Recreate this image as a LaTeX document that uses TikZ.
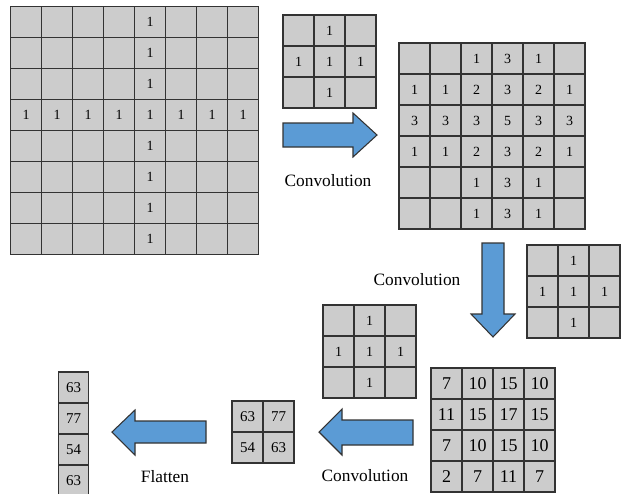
\documentclass[tikz,border=0pt]{standalone}
\usepackage{fontspec}
\setmainfont{Liberation Serif}
\newfontfamily\figfont{Liberation Serif}
\definecolor{cellgray}{HTML}{CCCCCC}
\definecolor{arrowblue}{HTML}{5B9BD5}
\definecolor{edgegray}{HTML}{333333}
\tikzset{
  cell/.style={draw=edgegray, fill=cellgray, line width=0.8pt, minimum width=23.25pt,
    minimum height=23.25pt, inner sep=0pt, font=\figfont\fontsize{10.5}{12}\selectfont},
  blockarrow/.style={draw=edgegray, fill=arrowblue, line width=0.8pt, line join=miter},
  steplabel/.style={font=\figfont\fontsize{13}{15}\selectfont},
}
% one feature map: #2 name, #3 left, #4 top, #5 rows of values
\newcommand{\featmap}[5][]{%
  \foreach \fmrow [count=\ri] in {#5}
    \foreach \v [count=\ci] in \fmrow
      \node[cell,#1] (#2-\ri-\ci) at ({#3+31*\ci-15.5},{#4+31*\ri-15.5}) {\v};%
}
\begin{document}
\begin{tikzpicture}[x=0.75pt,y=-0.75pt]
  \useasboundingbox (0,0) rectangle (621,493);

  % input
  \featmap{inp}{10.5}{6.5}{{{},{},{},{},1,{},{},{}},{{},{},{},{},1,{},{},{}},{{},{},{},{},1,{},{},{}},
    {1,1,1,1,1,1,1,1},{{},{},{},{},1,{},{},{}},{{},{},{},{},1,{},{},{}},{{},{},{},{},1,{},{},{}},
    {{},{},{},{},1,{},{},{}}}

  % kernels
  \featmap{kera}{283}{15}{{{},1,{}},{1,1,1},{{},1,{}}}
  \featmap{kerb}{527}{245}{{{},1,{}},{1,1,1},{{},1,{}}}
  \featmap{kerc}{323}{305}{{{},1,{}},{1,1,1},{{},1,{}}}

  % feature maps
  \featmap{fma}{399}{43}{{{},{},1,3,1,{}},{1,1,2,3,2,1},{3,3,3,5,3,3},{1,1,2,3,2,1},
    {{},{},1,3,1,{}},{{},{},1,3,1,{}}}
  \featmap[font=\figfont\fontsize{13.5}{15}\selectfont]{fmb}{431}{368}{{7,10,15,10},{11,15,17,15},{7,10,15,10},{2,7,11,7}}
  \featmap[font=\figfont\fontsize{11.25}{13}\selectfont]{fmc}{232}{401}{{63,77},{54,63}}
  \featmap[font=\figfont\fontsize{11.25}{13}\selectfont,minimum width=22.5pt]{flat}{58}{372}{{63},{77},{54},{63}}

  % arrows
  \draw[blockarrow] (283,123) -- (353,123) -- (353,113) -- (377,135) -- (353,157) -- (353,147) -- (283,147) -- cycle;
  \draw[blockarrow] (482,243) -- (504,243) -- (504,314) -- (515,314) -- (493,337) -- (471,314) -- (482,314) -- cycle;
  \draw[blockarrow] (413,420) -- (342,420) -- (342,409) -- (319,432) -- (342,455) -- (342,445) -- (413,445) -- cycle;
  \draw[blockarrow] (206,421) -- (135,421) -- (135,410) -- (112,432) -- (135,455) -- (135,443) -- (206,443) -- cycle;

  \node[steplabel] (conva) at (328,181) {Convolution};
  \node[steplabel] (convb) at (417,280) {Convolution};
  \node[steplabel] (convc) at (365,476) {Convolution};
  \node[steplabel] (flatten) at (165,477) {Flatten};
\end{tikzpicture}
\end{document}
